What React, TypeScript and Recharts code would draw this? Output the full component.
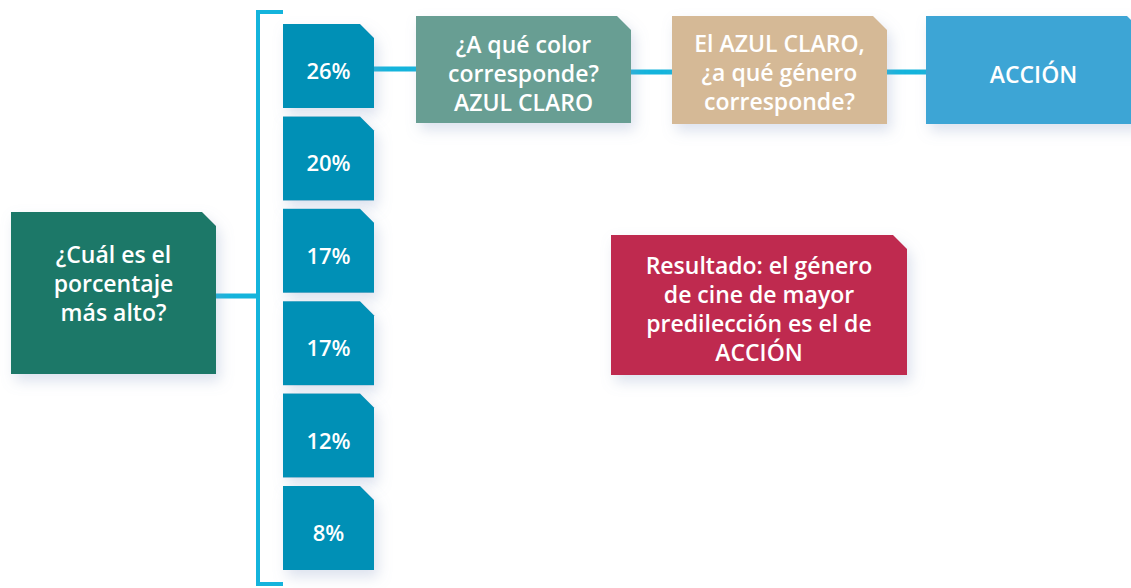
import { ScatterChart, Scatter, XAxis, YAxis, ReferenceLine } from "recharts";

// data
const PERCENTS = ["26%", "20%", "17%", "17%", "12%", "8%"];
const QUESTION = ["¿Cuál es el", "porcentaje", "más alto?"];
const STEP_COLOR = ["¿A qué color", "corresponde?", "AZUL CLARO"];
const STEP_GENRE = ["El AZUL CLARO,", "¿a qué género", "corresponde?"];
const ANSWER = ["ACCIÓN"];
const RESULT = ["Resultado: el género", "de cine de mayor", "predilección es el de", "ACCIÓN"];

const W = 1131;
const H = 588;
const LINE = "#14b4dc";
const FONT = "'Open Sans', 'Noto Sans', sans-serif";

type Node = { x: number; y: number; w: number; h: number; fill: string; lines: string[]; dy?: number; size?: number };

// layout (pixel space: axes are 1:1 with the canvas)
const PCT_TOP = 24;
const PCT_STEP = 92.4;
const pctNodes: Node[] = PERCENTS.map((p, i) => ({
  x: 283, y: PCT_TOP + i * PCT_STEP, w: 91, h: 84, fill: "#0690b6", lines: [p], dy: 4, size: 22,
}));

const nodes: Node[] = [
  { x: 11, y: 212, w: 205, h: 162, fill: "#1e7868", lines: QUESTION, dy: -10 },
  { x: 416, y: 16, w: 215, h: 107, fill: "#689e93", lines: STEP_COLOR, dy: 3 },
  { x: 672, y: 16, w: 215, h: 108, fill: "#d5b996", lines: STEP_GENRE, dy: 2 },
  { x: 926, y: 16, w: 215, h: 108, fill: "#3da5d5", lines: ANSWER, dy: 4 },
  { x: 611, y: 235, w: 296, h: 140, fill: "#bf2b4f", lines: RESULT, dy: 3 },
];

const all = [...pctNodes, ...nodes].map((n) => ({ ...n, cx: n.x + n.w / 2, cy: n.y + n.h / 2 }));

const connectors = [
  { a: { x: 374, y: 69 }, b: { x: 416, y: 69 } },
  { a: { x: 631, y: 72 }, b: { x: 672, y: 72 } },
  { a: { x: 887, y: 72 }, b: { x: 926, y: 72 } },
  { a: { x: 216, y: 296 }, b: { x: 258, y: 296 } },
];

const bracket = [
  { a: { x: 258, y: 10 }, b: { x: 258, y: 586 } },
  { a: { x: 256, y: 12 }, b: { x: 283, y: 12 } },
  { a: { x: 256, y: 584 }, b: { x: 283, y: 584 } },
];

function Box(props: any) {
  const { cx, cy, payload } = props;
  const n = payload as Node;
  const x = cx - n.w / 2;
  const y = cy - n.h / 2;
  const c = 14;
  const d = `M${x},${y} L${x + n.w - c},${y} L${x + n.w},${y + c} L${x + n.w},${y + n.h} L${x},${y + n.h} Z`;
  const lh = 29;
  const size = n.size ?? 23;
  const first = cy + (n.dy ?? 0) - ((n.lines.length - 1) * lh) / 2;
  return (
    <g>
      <path d={d} fill={n.fill} filter="url(#shadow)" />
      <text x={cx} textAnchor="middle" fill="#fff" fontFamily={FONT} fontWeight={600} fontSize={size}>
        {n.lines.map((l, i) => (
          <tspan key={i} x={cx} y={first + i * lh} dominantBaseline="central">{l}</tspan>
        ))}
      </text>
    </g>
  );
}

export default function App() {
  return (
    <div style={{ position: "absolute", left: 0, top: 0, background: "#fff" }}>
      <ScatterChart width={W} height={H} margin={{ top: 0, right: 0, bottom: 0, left: 0 }}>
        <defs>
          <filter id="shadow" x="-20%" y="-20%" width="150%" height="160%">
            <feDropShadow dx="4" dy="7" stdDeviation="7" floodColor="#8c9cc4" floodOpacity="0.3" />
          </filter>
        </defs>
        <XAxis type="number" dataKey="cx" domain={[0, W]} hide allowDataOverflow />
        <YAxis type="number" dataKey="cy" domain={[0, H]} reversed hide allowDataOverflow />
        {bracket.map((s, i) => (
          <ReferenceLine key={"b" + i} segment={[s.a, s.b]} stroke={LINE} strokeWidth={4} ifOverflow="visible" />
        ))}
        {connectors.map((s, i) => (
          <ReferenceLine key={"c" + i} segment={[s.a, s.b]} stroke={LINE} strokeWidth={5} ifOverflow="visible" />
        ))}
        <Scatter data={all} shape={Box} isAnimationActive={false} />
      </ScatterChart>
    </div>
  );
}
